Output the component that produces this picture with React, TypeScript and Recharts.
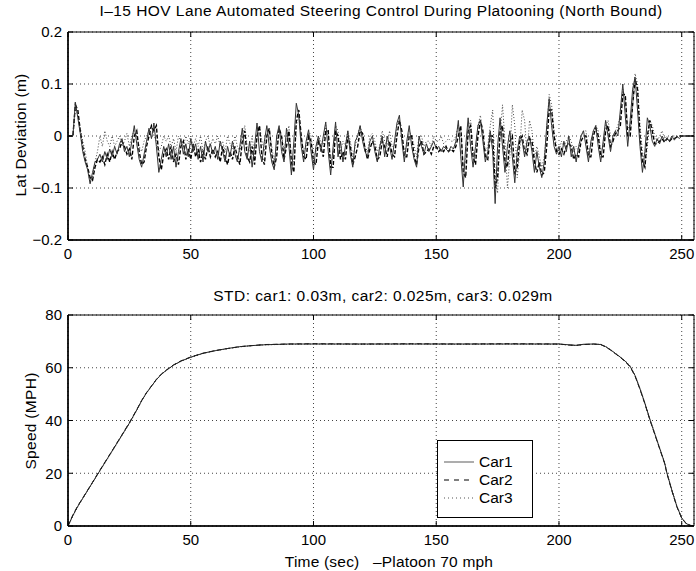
import { LineChart, Line, XAxis, YAxis, CartesianGrid, ReferenceArea, Legend } from "recharts";

const FONT = '"Liberation Sans", Arial, Helvetica, sans-serif';

const xTicks = [0, 50, 100, 150, 200, 250];
const latTicks = [-0.2, -0.1, 0, 0.1, 0.2];
const speedTicks = [0, 20, 40, 60, 80];

// lateral deviation (m), one sample per second, t = 0..255
const car1Lat = [
  0, 0, 0, 0.065, 0.035, 0.005, -0.03, -0.05, -0.065, -0.092,
  -0.07, -0.05, -0.045, -0.035, -0.05, -0.03, -0.045, -0.025, -0.04, -0.02,
  -0.035, -0.015, -0.005, -0.03, -0.02, -0.04, -0.01, 0.02, -0.015, -0.045,
  -0.06, -0.035, -0.01, 0.015, -0.005, 0.025, -0.02, -0.07, -0.045, -0.02,
  -0.04, -0.015, -0.045, -0.02, -0.06, -0.03, -0.005, -0.035, -0.015, -0.04,
  -0.005, -0.03, -0.015, -0.045, -0.02, -0.05, -0.01, -0.03, -0.015, -0.035,
  -0.02, -0.045, -0.01, -0.03, -0.05, -0.02, -0.04, -0.01, -0.035, -0.05,
  -0.02, 0.015, -0.03, -0.045, -0.01, -0.06, -0.02, 0.025, -0.03, -0.05,
  -0.01, 0.02, -0.02, -0.05, -0.065, 0.0, 0.02, -0.03, -0.05, 0.015,
  -0.02, -0.075, -0.01, 0.063, 0.04, -0.02, -0.05, -0.01, 0.012, -0.03,
  -0.065, -0.02, 0.0, -0.03, 0.0, 0.027, -0.03, -0.075, -0.02, 0.027,
  -0.04, -0.01, -0.05, -0.02, 0.01, -0.035, -0.06, -0.01, 0.0, 0.02,
  -0.01, -0.03, -0.04, -0.01, 0.0, -0.03, -0.05, -0.02, 0.0, -0.04,
  0.0, -0.02, -0.045, -0.01, 0.025, 0.04, -0.01, -0.05, -0.01, 0.02,
  -0.02, -0.045, -0.06, 0.0, -0.02, -0.035, -0.015, -0.03, -0.02, -0.01,
  -0.025, -0.02, -0.03, -0.02, -0.025, -0.03, -0.02, -0.025, -0.01, 0.03,
  -0.04, -0.098, -0.02, 0.035, -0.02, -0.06, -0.02, 0.02, 0.03, -0.01,
  -0.05, -0.03, 0.01, -0.03, -0.13, -0.02, 0.035, -0.02, -0.07, -0.02,
  0.01, -0.04, -0.09, -0.03, 0.0, -0.01, -0.04, -0.01, 0.0, -0.03,
  -0.07, -0.03, -0.06, -0.08, -0.05, 0.02, 0.072, 0.02, -0.02, -0.035,
  -0.02, -0.04, -0.01, -0.03, 0.0, -0.04, -0.02, -0.05, -0.02, 0.0,
  0.01, -0.02, -0.05, -0.01, 0.01, 0.02, -0.02, -0.05, -0.01, 0.03,
  0.0, -0.03, 0.0, 0.01, 0.0, 0.05, 0.1, 0.04, -0.02, 0.03,
  0.09, 0.113, 0.05, -0.02, -0.07, -0.03, 0.035, 0.02, -0.01, -0.02,
  -0.005, -0.015, 0.0, -0.01, -0.005, -0.01, 0.0, -0.008, 0.0, -0.005,
  0, 0, 0, 0, 0, 0,
];

const car2Lat = [
  0, 0, 0, 0.06, 0.05, 0.01, -0.02, -0.045, -0.06, -0.08,
  -0.085, -0.06, -0.045, -0.05, -0.04, -0.055, -0.035, -0.05, -0.03, -0.045,
  -0.03, -0.025, -0.01, -0.02, -0.035, -0.025, -0.045, 0.0, 0.01, -0.03,
  -0.055, -0.05, -0.02, 0.0, 0.02, 0.01, 0.02, -0.04, -0.065, -0.035,
  -0.025, -0.045, -0.02, -0.05, -0.035, -0.055, -0.02, -0.01, -0.045, -0.025,
  -0.045, -0.015, -0.04, -0.025, -0.05, -0.03, -0.045, -0.02, -0.04, -0.025,
  -0.04, -0.03, -0.05, -0.02, -0.04, -0.055, -0.03, -0.045, -0.02, -0.04,
  -0.055, -0.01, 0.01, -0.04, -0.05, -0.02, -0.055, 0.0, 0.02, -0.04,
  -0.055, 0.0, 0.015, -0.035, -0.06, -0.04, 0.015, 0.0, -0.045, -0.02,
  0.01, -0.05, -0.07, 0.03, 0.05, 0.0, -0.04, -0.045, 0.0, -0.01,
  -0.05, -0.055, -0.01, -0.02, -0.04, 0.01, 0.01, -0.06, -0.06, 0.01,
  0.0, -0.045, -0.03, -0.045, 0.0, -0.02, -0.055, -0.04, -0.02, 0.01,
  0.005, -0.025, -0.045, -0.025, -0.01, -0.02, -0.045, -0.04, -0.01, -0.02,
  -0.04, -0.01, -0.035, -0.04, 0.0, 0.03, 0.01, -0.04, -0.04, 0.0,
  0.0, -0.04, -0.055, -0.02, -0.01, -0.035, -0.03, -0.025, -0.035, -0.02,
  -0.02, -0.03, -0.025, -0.03, -0.02, -0.03, -0.025, -0.03, -0.02, 0.0,
  0.02, -0.07, -0.08, 0.01, 0.02, -0.04, -0.055, 0.0, 0.03, 0.01,
  -0.04, -0.045, 0.0, 0.0, -0.1, -0.08, 0.01, 0.02, -0.05, -0.06,
  -0.01, 0.0, -0.07, -0.06, -0.01, 0.0, -0.03, -0.035, -0.005, -0.01,
  -0.05, -0.07, -0.05, -0.075, -0.07, -0.02, 0.05, 0.05, 0.0, -0.03,
  -0.035, -0.025, -0.035, -0.02, -0.015, -0.02, -0.045, -0.035, -0.04, -0.01,
  0.0, 0.0, -0.04, -0.04, 0.0, 0.015, 0.0, -0.04, -0.04, 0.01,
  0.02, -0.02, -0.01, 0.005, 0.01, 0.02, 0.08, 0.08, 0.0, 0.0,
  0.06, 0.11, 0.09, 0.0, -0.05, -0.06, 0.0, 0.03, 0.01, -0.015,
  -0.015, -0.01, -0.005, -0.012, -0.005, -0.01, -0.005, -0.005, -0.002, 0.0,
  0, 0, 0, 0, 0, 0,
];

const car3Lat = [
  0, 0, 0, 0.055, 0.04, 0.015, -0.01, -0.03, -0.06, -0.09,
  -0.08, -0.05, -0.03, 0.0, -0.02, 0.01, -0.01, -0.02, 0.0, -0.02,
  -0.01, 0.0, -0.02, -0.01, 0.005, -0.02, 0.0, 0.01, 0.0, -0.02,
  -0.03, -0.01, 0.0, 0.01, 0.02, 0.0, -0.01, -0.03, -0.02, 0.0,
  -0.01, 0.0, -0.02, -0.005, -0.03, 0.0, -0.01, -0.02, 0.0, -0.015,
  0.0, -0.02, -0.005, -0.02, 0.0, -0.03, -0.01, 0.0, -0.02, -0.005,
  -0.015, 0.0, -0.02, -0.01, -0.03, 0.0, -0.015, -0.025, 0.0, -0.02,
  -0.03, 0.0, 0.02, -0.02, -0.03, 0.0, -0.04, 0.0, 0.02, -0.01,
  -0.03, 0.0, 0.01, -0.02, -0.05, -0.02, 0.01, 0.0, -0.03, 0.0,
  0.02, -0.04, -0.05, 0.02, 0.04, 0.0, -0.03, -0.02, 0.01, 0.0,
  -0.04, -0.03, 0.0, -0.01, -0.02, 0.02, 0.0, -0.05, -0.04, 0.02,
  0.01, -0.03, -0.01, -0.02, 0.01, -0.01, -0.04, -0.02, 0.0, 0.02,
  0.0, -0.02, -0.03, 0.0, 0.005, -0.01, -0.03, -0.02, 0.01, -0.01,
  -0.02, 0.01, -0.02, -0.02, 0.02, 0.03, 0.0, -0.03, -0.02, 0.01,
  0.0, -0.02, -0.04, 0.0, 0.0, -0.02, -0.01, -0.01, -0.02, 0.0,
  -0.01, -0.01, 0.0, -0.015, -0.01, -0.005, -0.01, -0.01, 0.0, 0.02,
  0.01, -0.06, -0.05, 0.02, 0.03, -0.03, -0.04, 0.02, 0.04, 0.0,
  -0.03, -0.02, 0.02, 0.05, -0.08, -0.11, 0.0, 0.06, -0.01, -0.1,
  -0.04, 0.06, 0.02, -0.08, -0.03, 0.05, 0.03, -0.04, 0.03, 0.01,
  -0.04, -0.02, -0.04, -0.06, -0.04, 0.01, 0.08, 0.06, 0.01, -0.02,
  -0.03, -0.01, -0.02, -0.01, 0.0, -0.01, -0.03, -0.02, -0.03, 0.0,
  0.01, 0.01, -0.03, -0.02, 0.01, 0.02, 0.01, -0.03, -0.02, 0.02,
  0.03, 0.0, 0.0, 0.01, 0.02, 0.04, 0.09, 0.07, 0.02, 0.01,
  0.06, 0.12, 0.1, 0.02, -0.03, -0.06, -0.02, 0.03, 0.02, 0.0,
  -0.01, 0.0, 0.01, -0.005, 0.0, -0.01, 0.0, 0.0, 0.0, 0.0,
  0, 0, 0, 0, 0, 0,
];

// speed (MPH)
const speedTime = [
  0, 2, 4, 6, 8, 10, 13, 16, 19, 22, 25, 28, 30, 32, 34, 36, 38, 40, 43, 46,
  50, 55, 60, 65, 70, 75, 80, 90, 100, 120, 140, 160, 180, 200, 204, 207, 210, 214, 217, 219,
  221, 223, 225, 227, 229, 231, 233, 235, 237, 239, 241, 243, 244, 246, 248, 250, 252, 254, 255,
];
const car1Speed = [
  0, 4, 7.5, 10.5, 13.5, 16.5, 21, 25.5, 30, 34.5, 39, 44, 47.5, 50.5, 53, 55.5, 57.5, 59, 61, 62.5,
  64, 65.5, 66.5, 67.3, 68, 68.4, 68.7, 69, 69, 69, 69, 69, 69, 69, 68.7, 68.5, 68.9, 69, 68.8, 68,
  66.8, 65.4, 64, 62.5, 60.5, 57, 52, 46.5, 40.5, 35, 29.5, 24, 20, 13.5, 7.5, 3, 0.8, 0.1, 0,
];
const car2Speed = [
  0, 4.2, 7.7, 10.6, 13.6, 16.6, 21.2, 25.6, 30.1, 34.6, 39.2, 44.1, 47.6, 50.6, 53.1, 55.6, 57.6, 59.1, 61.1, 62.6,
  64.1, 65.5, 66.5, 67.3, 68, 68.4, 68.8, 69, 69.1, 69, 69.1, 69, 69.1, 69, 68.6, 68.5, 68.8, 69, 68.8, 67.9,
  66.7, 65.3, 63.9, 62.3, 60.3, 56.8, 51.8, 46.3, 40.3, 34.8, 29.3, 23.8, 19.8, 13.3, 7.3, 2.9, 0.7, 0.1, 0,
];
const car3Speed = [
  0, 3.8, 7.3, 10.4, 13.4, 16.4, 20.8, 25.3, 29.8, 34.3, 38.8, 43.8, 47.4, 50.4, 52.9, 55.4, 57.4, 58.9, 60.9, 62.4,
  63.9, 65.4, 66.4, 67.2, 67.9, 68.4, 68.7, 68.9, 69, 68.9, 69, 68.9, 69, 68.9, 68.6, 68.4, 68.8, 68.9, 68.9, 68.1,
  66.9, 65.5, 64.1, 62.6, 60.7, 57.2, 52.2, 46.7, 40.7, 35.2, 29.7, 24.2, 20.2, 13.7, 7.7, 3.1, 0.9, 0.2, 0,
];

const latData = car1Lat.map((v, i) => ({ t: i, car1: v, car2: car2Lat[i], car3: car3Lat[i] }));
const speedData = speedTime.map((t, i) => ({ t, car1: car1Speed[i], car2: car2Speed[i], car3: car3Speed[i] }));

const tickStyle = { fontSize: 15, fill: "#000", fontFamily: FONT };
const noLabel = () => <g />;
const fmtLat = (v: number) => (v === 0 ? "0" : v.toFixed(1).replace("-", "\u2212"));

const legendItems = [
  { name: "Car1", color: "#777", dash: undefined },
  { name: "Car2", color: "#000", dash: "5 5" },
  { name: "Car3", color: "#555", dash: "1 3" },
];

function LegendBox() {
  return (
    <div style={{ width: 94, height: 76, border: "1.5px solid #000", background: "#fff", fontFamily: FONT, fontSize: 15 }}>
      <svg width={94} height={76}>
        {legendItems.map((it, i) => (
          <g key={it.name}>
            <line x1={6} x2={36} y1={21 + i * 18} y2={21 + i * 18} stroke={it.color} strokeWidth={1.2} strokeDasharray={it.dash} />
            <text x={41} y={26 + i * 18} fontSize={15.5} fontFamily={FONT} fill="#000">{it.name}</text>
          </g>
        ))}
      </svg>
    </div>
  );
}

const textStyle = { position: "absolute" as const, fontFamily: FONT, fontSize: 15, color: "#000", whiteSpace: "nowrap" as const };

// inward MATLAB-style ticks on all four sides
function frameAxes(xDomain: number[], yDomain: number[], yTicks: number[], fmt?: (v: number) => string) {
  return [
    <XAxis key="xb" dataKey="t" type="number" domain={xDomain} ticks={xTicks} interval={0} height={30}
      tickSize={-5} tickMargin={13} tickLine={{ stroke: "#000" }} axisLine={{ stroke: "#000", strokeWidth: 1.5 }}
      tick={tickStyle} allowDataOverflow />,
    <XAxis key="xt" xAxisId="top" orientation="top" dataKey="t" type="number" domain={xDomain} ticks={xTicks}
      interval={0} height={1} tickSize={-5} tickLine={{ stroke: "#000" }} axisLine={false} tick={noLabel} allowDataOverflow />,
    <YAxis key="yl" type="number" domain={yDomain} ticks={yTicks} interval={0} width={68}
      tickSize={-5} tickMargin={11} tickLine={{ stroke: "#000" }} axisLine={{ stroke: "#000", strokeWidth: 1.5 }}
      tick={tickStyle} tickFormatter={fmt} allowDataOverflow />,
    <YAxis key="yr" yAxisId="right" orientation="right" type="number" domain={yDomain} ticks={yTicks} interval={0}
      width={1} tickSize={-5} tickLine={{ stroke: "#000" }} axisLine={false} tick={noLabel} allowDataOverflow />,
  ];
}

export default function App() {
  return (
    <div style={{ position: "absolute", left: 0, top: 0, width: 696, height: 571, background: "#fff" }}>
      <div style={{ ...textStyle, left: 381, top: 2, transform: "translateX(-50%)", fontSize: 15.5, letterSpacing: 0.45 }}>
        I–15 HOV Lane Automated Steering Control During Platooning (North Bound)
      </div>
      <div style={{ ...textStyle, left: 21, top: 135, transform: "translate(-50%, -50%) rotate(-90deg)", fontSize: 15.5, letterSpacing: 0.3 }}>
        Lat Deviation (m)
      </div>
      <div style={{ position: "absolute", left: 0, top: 0 }}>
        <LineChart width={696} height={285} data={latData} margin={{ top: 31, right: 1, bottom: 15, left: 0 }}>
          <CartesianGrid stroke="#444" strokeDasharray="1 3" />
          {frameAxes([0, 255], [-0.2, 0.2], latTicks, fmtLat)}
          <ReferenceArea x1={0} x2={255} y1={-0.2} y2={0.2} fill="none" stroke="#000" strokeWidth={1} />
          <Line dataKey="car3" stroke="#444" strokeWidth={1} strokeDasharray="1 2" dot={false} isAnimationActive={false} />
          <Line dataKey="car2" stroke="#000" strokeWidth={1.4} strokeDasharray="4 2" dot={false} isAnimationActive={false} />
          <Line dataKey="car1" stroke="#333" strokeWidth={1} dot={false} isAnimationActive={false} />
        </LineChart>
      </div>

      <div style={{ ...textStyle, left: 383, top: 287, transform: "translateX(-50%)", fontSize: 15.5, letterSpacing: 0.45 }}>
        STD: car1: 0.03m, car2: 0.025m, car3: 0.029m
      </div>
      <div style={{ ...textStyle, left: 31, top: 421, transform: "translate(-50%, -50%) rotate(-90deg)", fontSize: 15.5, letterSpacing: 0.3 }}>
        Speed (MPH)
      </div>
      <div style={{ ...textStyle, left: 389, top: 553, transform: "translateX(-50%)", fontSize: 15.5, letterSpacing: 0.2 }}>
        Time (sec)&nbsp;&nbsp;&nbsp;–Platoon 70 mph
      </div>
      <div style={{ position: "absolute", left: 0, top: 285 }}>
        <LineChart width={696} height={286} data={speedData} margin={{ top: 29, right: 1, bottom: 15, left: 0 }}>
          <CartesianGrid stroke="#444" strokeDasharray="1 3" />
          {frameAxes([0, 255], [0, 80], speedTicks)}
          <ReferenceArea x1={0} x2={255} y1={0} y2={80} fill="none" stroke="#000" strokeWidth={1} />
          <Legend layout="vertical" align="center" verticalAlign="middle" content={() => <LegendBox />}
            wrapperStyle={{ left: 437, top: 155, width: 97, height: 79 }} />
          <Line dataKey="car3" stroke="#444" strokeWidth={1} strokeDasharray="1 2" dot={false} isAnimationActive={false} />
          <Line dataKey="car2" stroke="#000" strokeWidth={1} strokeDasharray="5 3" dot={false} isAnimationActive={false} />
          <Line dataKey="car1" stroke="#222" strokeWidth={1} dot={false} isAnimationActive={false} />
        </LineChart>
      </div>
    </div>
  );
}
